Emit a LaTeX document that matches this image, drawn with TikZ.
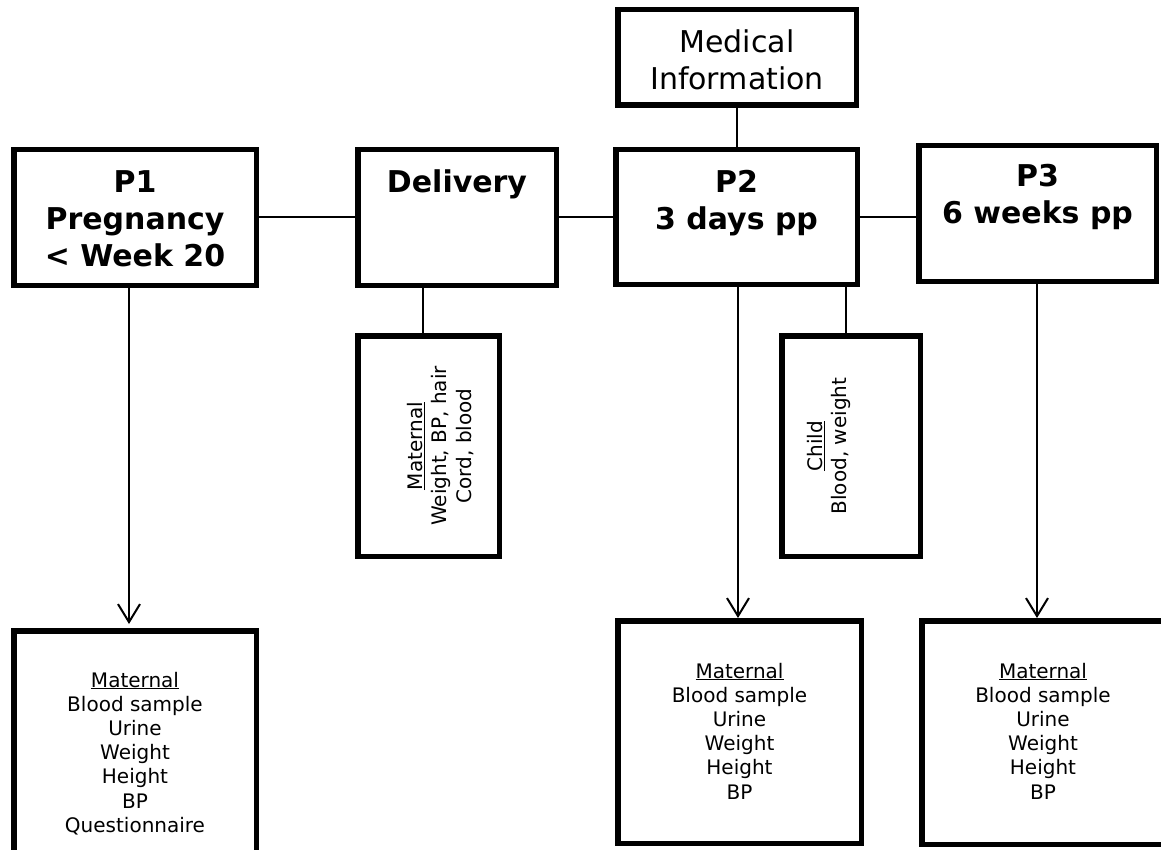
\documentclass[tikz,border=0pt]{standalone}
\usepackage{fontspec}
\setmainfont{DejaVu Sans}
\usetikzlibrary{arrows.meta,calc}
\begin{document}
\begin{tikzpicture}[x=1pt,y=-1pt,
  box/.style={draw=black, line width=5.5pt, rectangle, inner sep=0pt},
  big/.style={font=\fontsize{30}{37}\selectfont, inner sep=0pt, anchor=base},
  bigb/.style={font=\fontsize{30}{37}\selectfont\bfseries, inner sep=0pt, anchor=base},
  small/.style={font=\fontsize{20}{24.2}\selectfont, inner sep=0pt, anchor=base},
  link/.style={draw=black, line width=2pt},
  arr/.style={link, -{Straight Barb[length=18pt,width=22pt]}}
]
\useasboundingbox (0,0) rectangle (1161,850);
\clip (0,0) rectangle (1161,850);

% boxes
\node[box, minimum width=238.5pt, minimum height=95.5pt] (med) at (737,57.5) {};
\node[box, minimum width=242.5pt, minimum height=135.5pt] (p1) at (135,217.5) {};
\node[box, minimum width=198.5pt, minimum height=135.5pt] (del) at (457,217.5) {};
\node[box, minimum width=241.5pt, minimum height=134.5pt] (p2) at (736.5,217) {};
\node[box, minimum width=237.5pt, minimum height=135.5pt] (p3) at (1037.5,213.5) {};
\node[box, minimum width=141.5pt, minimum height=220.5pt] (dm) at (428.5,446) {};
\node[box, minimum width=138.5pt, minimum height=220.5pt] (ch) at (851,446) {};
\node[box, minimum width=242.5pt, minimum height=246.5pt] (bl) at (135,754) {};
\node[box, minimum width=243.5pt, minimum height=222.5pt] (bm) at (739.5,732) {};
\node[box, minimum width=242.5pt, minimum height=223.5pt] (br) at (1043,732.5) {};

% texts
\node[big] (medt) at (737,53) {\begin{tabular}[t]{@{}c@{}}Medical\\Information\end{tabular}};
\node[bigb] (p1t) at (135,193) {\begin{tabular}[t]{@{}c@{}}P1\\Pregnancy\\< Week 20\end{tabular}};
\node[bigb] (delt) at (457,193) {Delivery};
\node[bigb] (p2t) at (736.5,193) {\begin{tabular}[t]{@{}c@{}}P2\\3 days pp\end{tabular}};
\node[bigb] (p3t) at (1037.5,187) {\begin{tabular}[t]{@{}c@{}}P3\\6 weeks pp\end{tabular}};
\node[small, anchor=center, rotate=90] (dmt) at (442,446) {\begin{tabular}{@{}c@{}}\underline{Maternal}\\Weight, BP, hair\\Cord, blood\end{tabular}};
\node[small, anchor=center, rotate=90] (cht) at (830,446) {\begin{tabular}{@{}c@{}}\underline{Child}\\Blood, weight\end{tabular}};
\node[small] (blt) at (135,687) {\begin{tabular}[t]{@{}c@{}}\underline{Maternal}\\Blood sample\\Urine\\Weight\\Height\\BP\\Questionnaire\end{tabular}};
\node[small] (bmt) at (739.5,678) {\begin{tabular}[t]{@{}c@{}}\underline{Maternal}\\Blood sample\\Urine\\Weight\\Height\\BP\end{tabular}};
\node[small] (brt) at (1043,678) {\begin{tabular}[t]{@{}c@{}}\underline{Maternal}\\Blood sample\\Urine\\Weight\\Height\\BP\end{tabular}};

% connectors
\draw[link] (med.south) -- (med.south |- p2.north);
\draw[link] (p1.east) -- (del.west);
\draw[link] (del.east) -- (del.east -| p2.west);
\draw[link] (p2.east) -- (p2.east -| p3.west);
\draw[link] ([xshift=-5.5pt]dm.north) -- ([xshift=-5.5pt]dm.north |- del.south);
\draw[link] ([xshift=-5pt]ch.north) -- ([xshift=-5pt]ch.north |- p2.south);
\draw[arr, shorten >=4pt] ([xshift=-6pt]p1.south) -- ([xshift=-6pt]bl.north);
\draw[arr] ([xshift=1.5pt]p2.south) -- ([xshift=-1.5pt]bm.north);
\draw[arr] ([xshift=-0.5pt]p3.south) -- ([xshift=-6pt]br.north);
\end{tikzpicture}
\end{document}
